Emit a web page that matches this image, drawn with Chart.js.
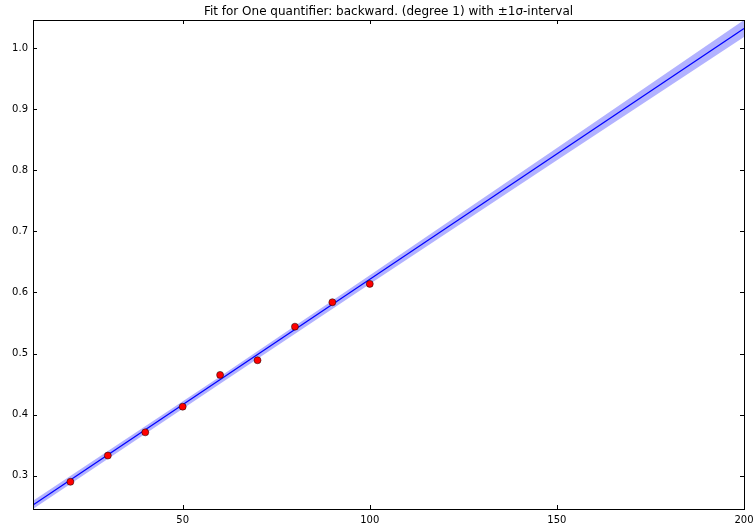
<!DOCTYPE html>
<html>
<head>
<meta charset="utf-8">
<script src="https://cdn.jsdelivr.net/npm/chart.js@4/dist/chart.umd.min.js"></script>
<style>
  html, body { margin: 0; padding: 0; background: #fff; }
  #wrap { width: 755px; height: 531px; }
</style>
</head>
<body>
<div id="wrap"><canvas id="grafico" width="755" height="531"></canvas></div>
<script>
// =====================
// Dados
// =====================
const titulo = "Fit for One quantifier: backward. (degree 1) with \u00b11\u03c3-interval";

const xTicks = [50, 100, 150, 200];
const yTicks = [0.3, 0.4, 0.5, 0.6, 0.7, 0.8, 0.9, 1.0];

const amostraX = [20, 30, 40, 50, 60, 70, 80, 90, 100];
const amostraY = [0.290, 0.333, 0.371, 0.413, 0.465, 0.489, 0.544, 0.584, 0.614];

const ajusteX = [10, 200];
const ajusteY = [0.252, 1.032];

const faixaX = [10, 60, 100, 150, 200];
const faixaSup = [0.259, 0.4625, 0.628, 0.8365, 1.046];
const faixaInf = [0.2455, 0.4505, 0.614, 0.8163, 1.018];

const pares = (xs, ys) => xs.map((x, i) => ({ x, y: ys[i] }));

// =====================
// Moldura, ticks para dentro e título (estilo matplotlib)
// =====================
const moldura = {
  id: "moldura",
  afterDraw(chart) {
    const { ctx, chartArea: a, scales } = chart;
    ctx.save();
    ctx.strokeStyle = "#000";
    ctx.lineWidth = 1;
    ctx.beginPath();
    xTicks.forEach((v) => {
      const px = Math.round(scales.x.getPixelForValue(v)) + 0.5;
      ctx.moveTo(px, a.bottom); ctx.lineTo(px, a.bottom - 4);
      ctx.moveTo(px, a.top); ctx.lineTo(px, a.top + 4);
    });
    yTicks.forEach((v) => {
      const py = Math.round(scales.y.getPixelForValue(v)) + 0.5;
      ctx.moveTo(a.left, py); ctx.lineTo(a.left + 4, py);
      ctx.moveTo(a.right, py); ctx.lineTo(a.right - 4, py);
    });
    ctx.stroke();
    ctx.strokeRect(Math.round(a.left) + 0.5, Math.round(a.top) + 0.5,
      Math.round(a.right - a.left), Math.round(a.bottom - a.top));

    // título centrado sobre a área do gráfico
    ctx.fillStyle = "#000";
    ctx.font = "12px 'DejaVu Sans', sans-serif";
    ctx.textAlign = "center";
    ctx.textBaseline = "middle";
    ctx.fillText(titulo, (a.left + a.right) / 2, 12);
    ctx.restore();
  },
};

const fonte = { family: "'DejaVu Sans', sans-serif", size: 10 };

new Chart(document.getElementById("grafico"), {
  type: "scatter",
  data: {
    datasets: [
      {
        data: pares(faixaX, faixaSup),
        showLine: true,
        pointRadius: 0,
        borderWidth: 0,
        borderColor: "rgba(0,0,0,0)",
        backgroundColor: "rgba(0,0,255,0.3)",
        fill: "+1",
        order: 3,
      },
      {
        data: pares(faixaX, faixaInf),
        showLine: true,
        pointRadius: 0,
        borderWidth: 0,
        borderColor: "rgba(0,0,0,0)",
        fill: false,
        order: 2,
      },
      {
        data: pares(ajusteX, ajusteY),
        showLine: true,
        pointRadius: 0,
        borderWidth: 1.2,
        borderColor: "#0000ff",
        fill: false,
        order: 1,
      },
      {
        data: pares(amostraX, amostraY),
        pointRadius: 3.5,
        pointBackgroundColor: "#ff0000",
        pointBorderColor: "#000",
        pointBorderWidth: 0.5,
        order: 0,
      },
    ],
  },
  options: {
    responsive: false,
    animation: false,
    layout: { padding: { left: 0, right: 11, top: 20, bottom: 0 } },
    plugins: {
      legend: { display: false },
      tooltip: { enabled: false },
      title: { display: false },
    },
    scales: {
      x: {
        type: "linear",
        min: 10,
        max: 200,
        grid: { display: false, drawTicks: false },
        border: { display: false },
        afterBuildTicks: (s) => { s.ticks = xTicks.map((v) => ({ value: v })); },
        afterFit: (s) => { s.height = 22; s.paddingLeft = 0; s.paddingRight = 0; },
        ticks: {
          color: "#000",
          font: fonte,
          padding: 5,
          maxRotation: 0,
          autoSkip: false,
          callback: (v) => String(v),
        },
      },
      y: {
        min: 0.2455,
        max: 1.046,
        grid: { display: false, drawTicks: false },
        border: { display: false },
        afterBuildTicks: (s) => { s.ticks = yTicks.map((v) => ({ value: v })); },
        afterFit: (s) => { s.width = 33; s.paddingTop = 0; s.paddingBottom = 0; },
        ticks: {
          color: "#000",
          font: fonte,
          padding: 5,
          autoSkip: false,
          callback: (v) => Number(v).toFixed(1),
        },
      },
    },
  },
  plugins: [moldura],
});
</script>
</body>
</html>
